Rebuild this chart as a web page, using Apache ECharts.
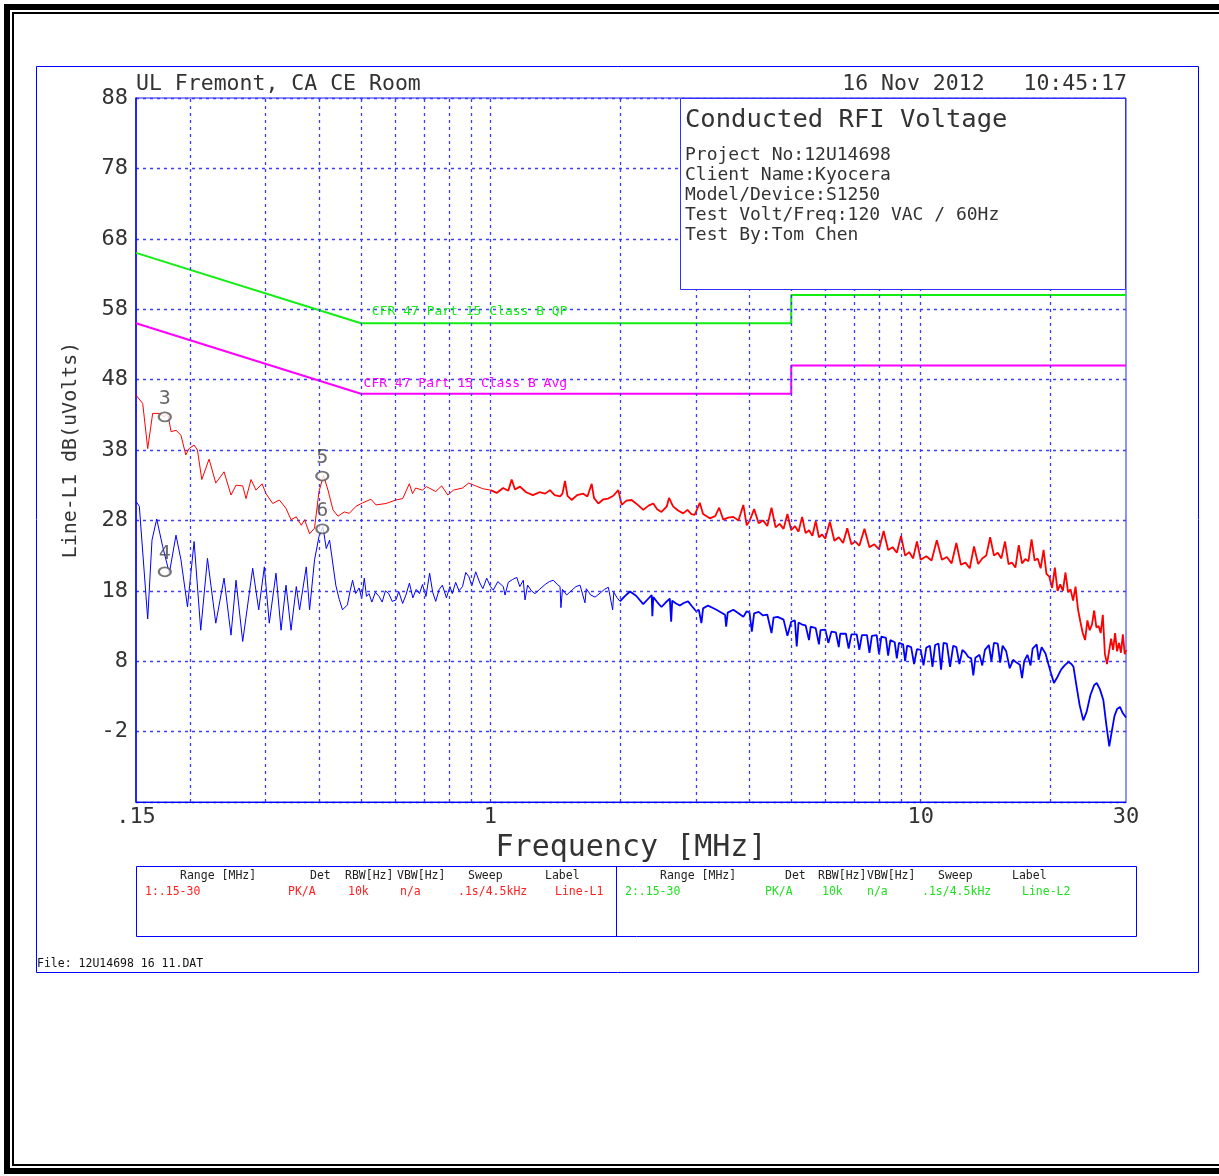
<!DOCTYPE html>
<html>
<head>
<meta charset="utf-8">
<script src="https://cdn.jsdelivr.net/npm/echarts@6.0.0/dist/echarts.min.js"></script>
<style>
html,body{margin:0;padding:0;background:#fff;}
#chart{width:1219px;height:1176px;}
</style>
</head>
<body>
<div id="chart"></div>
<script>
// ---------- DATA ----------
const gridFreqs = [0.2,0.3,0.4,0.5,0.6,0.7,0.8,0.9,1,2,3,4,5,6,7,8,9,10,20];

const qpLimit  = [[0.15,66],[0.5,56],[5,56],[5,60],[30,60]];
const avgLimit = [[0.15,56],[0.5,46],[5,46],[5,50],[30,50]];

// Peak detector trace (red), 0.15 - 1 MHz
const peakTraceLow = [
[0.150,45.8],[0.1555,44.6],[0.1597,38.2],[0.164,43.2],[0.170,43.2],[0.1745,42.7],[0.1777,43.2],[0.181,40.6],
[0.1858,40.8],[0.1908,40.1],[0.1958,37.3],[0.1993,38.2],[0.2047,38.7],[0.2084,38.0],[0.2133,33.8],[0.2218,36.7],
[0.2299,33.3],[0.2403,34.9],[0.2494,31.6],[0.2562,33.0],[0.2655,32.9],[0.2703,31.1],[0.2776,33.8],[0.2851,32.3],
[0.2945,33.2],[0.3008,31.8],[0.3118,30.4],[0.323,30.9],[0.3348,29.7],[0.3439,28.1],[0.3537,28.5],[0.3633,27.3],
[0.3697,28.1],[0.3798,26.1],[0.390,26.9],[0.3994,32.1],[0.4093,34.4],[0.4191,32.3],[0.4304,29.5],[0.4421,28.6],
[0.4573,29.2],[0.4697,29.0],[0.4868,30.0],[0.5046,30.5],[0.5275,31.0],[0.5419,30.2],[0.5718,30.4],[0.6032,30.9],
[0.6253,31.1],[0.6477,33.2],[0.659,31.8],[0.67,32.6],[0.695,32.3],[0.71,32.8],[0.746,32.1],[0.77,32.9],
[0.796,31.6],[0.82,32.3],[0.861,32.6],[0.89,33.3],[0.924,32.9],[0.96,32.5],[1.0,32.3]
];
// Peak detector trace (red), 1 - 30 MHz
const peakTraceHigh = [
[1.0,32.3],[1.034,31.9],[1.07,32.6],[1.10,32.2],[1.12,33.8],[1.14,32.4],[1.171,32.8],[1.21,32.0],[1.255,31.6],[1.30,32.0],
[1.34,31.8],[1.375,32.3],[1.41,31.6],[1.451,31.4],[1.47,31.8],[1.49,33.6],[1.51,31.5],[1.544,30.9],[1.59,31.6],
[1.643,31.8],[1.68,31.4],[1.719,33.2],[1.74,31.2],[1.781,30.4],[1.83,31.0],[1.879,31.1],[1.93,31.5],[1.982,32.3],
[2.018,30.2],[2.07,30.8],[2.129,30.9],[2.20,30.2],[2.265,29.5],[2.33,30.1],[2.39,30.4],[2.44,29.6],[2.497,29.2],
[2.57,30.0],[2.60,31.2],[2.657,30.0],[2.73,29.4],[2.803,29.0],[2.87,29.5],[2.93,28.9],[2.984,28.8],[3.065,30.5],
[3.12,28.9],[3.233,28.3],[3.33,28.6],[3.40,29.8],[3.477,28.1],[3.57,28.4],[3.668,28.5],[3.77,28.0],[3.870,30.2],
[3.94,27.3],
[4.0,27.9],[4.1,29.6],[4.2,27.6],[4.3,28.0],[4.4,27.2],[4.5,29.8],[4.6,27.0],[4.7,27.5],[4.8,26.8],[4.9,28.9],
[5.0,26.6],[5.1,27.2],[5.2,26.4],[5.3,28.5],[5.4,26.2],[5.5,26.6],[5.6,25.8],[5.7,27.9],[5.8,25.6],[5.9,26.0],
[6.0,25.4],[6.15,27.8],[6.3,25.1],[6.45,25.6],[6.6,24.8],[6.75,26.9],[6.9,24.6],[7.05,25.0],[7.2,24.4],[7.4,26.8],
[7.6,24.2],[7.8,24.6],[8.0,23.9],[8.2,26.5],[8.4,23.8],[8.6,24.2],[8.8,23.4],[9.0,25.8],[9.2,23.0],[9.4,23.5],
[9.6,22.6],[9.8,25.0],[10.0,22.4],[10.3,22.9],[10.6,22.3],[10.9,25.2],[11.2,22.4],[11.5,22.8],[11.8,21.9],[12.1,24.8],
[12.4,21.7],[12.7,22.0],[13.0,21.2],[13.3,24.3],[13.6,21.8],[13.9,22.6],[14.2,23.0],[14.5,25.6],[14.8,23.0],[15.1,23.4],
[15.4,22.6],[15.7,25.0],[16.0,21.8],[16.3,22.0],[16.6,21.3],[16.9,24.5],[17.2,21.9],[17.5,22.5],[17.8,22.2],[18.1,25.3],
[18.4,22.3],[18.7,22.6],[19.0,21.2],[19.3,23.8],[19.6,20.4],[19.9,20.0],[20.2,18.4],[20.5,21.3],[20.8,18.0],[21.1,18.9],
[21.4,18.0],[21.7,20.6],[22.0,17.8],[22.3,18.2],[22.6,16.6],[22.9,18.6],[23.2,15.4],[23.5,13.6],[23.8,12.0],[24.1,11.0],
[24.4,13.8],[24.7,12.4],[25.0,13.2],[25.3,15.2],[25.6,12.8],[25.9,13.0],[26.2,12.0],[26.5,14.6],[26.8,9.0],[27.1,7.6],
[27.4,9.4],[27.7,11.2],[28.0,9.6],[28.3,12.0],[28.6,9.4],[28.9,10.6],[29.2,9.2],[29.5,11.8],[29.8,9.0],[30,9.6]
];

// Average detector trace (blue), 0.15 - 2 MHz
const avgTraceLow = [
[0.150,30.7],[0.1527,30.0],[0.1597,14.0],[0.1634,25.2],[0.1676,28.2],[0.1730,24.3],[0.1793,20.5],[0.1858,25.9],
[0.1908,22.4],[0.1976,15.7],[0.2047,25.0],[0.2121,12.4],[0.2199,22.6],[0.2299,13.4],[0.2403,19.8],[0.2494,11.7],
[0.2562,19.5],[0.2655,10.8],[0.2801,21.2],[0.2893,15.3],[0.2981,21.4],[0.3061,13.4],[0.3173,20.5],[0.326,12.4],
[0.3348,18.8],[0.3439,12.4],[0.3537,18.6],[0.360,15.3],[0.3731,21.4],[0.3798,15.3],[0.390,22.4],[0.3994,25.7],
[0.408,27.1],[0.4152,24.0],[0.4227,25.2],[0.437,18.8],[0.445,16.8],[0.453,15.3],[0.465,16.0],[0.472,18.0],
[0.478,19.5],[0.486,17.6],[0.495,18.4],[0.502,16.9],[0.509,19.8],[0.515,17.2],[0.522,17.6],[0.530,16.4],
[0.540,17.8],[0.551,17.2],[0.560,16.4],[0.570,18.0],[0.580,17.6],[0.591,16.5],[0.603,16.7],[0.612,17.9],
[0.625,16.2],[0.636,17.4],[0.648,19.1],[0.660,17.0],[0.672,18.2],[0.684,17.6],[0.695,18.9],[0.708,17.2],
[0.722,20.5],[0.734,17.8],[0.746,16.5],[0.760,18.2],[0.773,18.8],[0.790,17.0],[0.805,18.6],[0.815,17.6],
[0.830,19.2],[0.845,18.0],[0.861,18.6],[0.876,20.6],[0.891,20.0],[0.905,18.7],[0.924,20.7],[0.945,19.1],
[0.960,18.3],[0.980,19.8],[1.0,18.6],[1.015,18.1],[1.04,19.3],[1.071,18.6],[1.081,17.4],[1.10,19.2],
[1.125,19.6],[1.151,19.9],[1.17,18.6],[1.192,19.5],[1.203,16.7],[1.22,18.8],[1.245,18.0],[1.269,17.6],
[1.30,18.2],[1.34,18.9],[1.37,19.3],[1.400,19.5],[1.43,18.9],[1.451,18.6],[1.458,15.6],[1.47,18.2],
[1.504,17.4],[1.54,18.0],[1.58,18.6],[1.615,18.8],[1.658,16.3],[1.67,18.3],[1.71,17.4],[1.750,17.1],
[1.80,17.7],[1.84,18.2],[1.879,18.5],[1.923,15.3],[1.935,17.8],[1.97,17.0],[2.0,16.5]
];
// Average detector trace (blue), 2 - 30 MHz
const avgTraceHigh = [
[2.0,16.5],[2.05,17.2],
[2.110,17.9],[2.18,17.3],[2.265,16.1],[2.32,16.8],[2.370,17.4],[2.378,14.4],[2.39,17.1],[2.44,16.4],
[2.497,15.7],[2.55,16.3],[2.611,16.9],[2.63,13.6],[2.645,16.6],[2.70,16.2],[2.754,15.9],[2.82,16.3],
[2.879,16.5],[2.94,15.8],[3.006,15.1],[3.05,15.3],[3.092,13.4],[3.12,15.5],[3.204,15.9],[3.28,15.6],
[3.351,15.3],[3.42,15.0],[3.509,14.6],[3.53,12.9],[3.56,14.9],[3.668,15.3],[3.77,14.8],[3.870,14.3],[3.94,15.1],
[4.0,14.9],[4.05,12.2],[4.1,14.8],[4.2,15.0],[4.3,14.5],[4.4,14.6],[4.5,12.0],[4.55,14.2],[4.65,14.3],[4.8,13.9],
[4.9,11.6],[5.0,13.6],[5.1,13.8],[5.15,10.1],[5.2,13.5],[5.3,13.2],[5.4,13.1],[5.5,11.0],[5.55,12.9],[5.7,12.7],
[5.8,10.4],[5.85,12.4],[6.0,12.5],[6.1,10.6],[6.2,12.2],[6.35,12.1],[6.45,10.0],[6.5,11.9],[6.7,11.9],[6.8,9.8],
[6.9,11.8],[7.1,11.8],[7.2,9.6],[7.3,11.7],[7.5,11.7],[7.6,9.2],[7.7,11.6],[7.9,11.7],[8.0,9.0],[8.1,11.5],
[8.3,11.3],[8.4,8.8],[8.5,11.0],[8.7,10.7],[8.8,8.4],[8.9,10.6],[9.1,10.4],[9.2,8.0],[9.3,10.2],[9.5,10.0],
[9.65,7.6],[9.8,9.7],[10.0,9.6],[10.15,7.4],[10.3,9.9],[10.5,10.2],[10.65,7.2],[10.8,10.3],[11.0,10.5],[11.15,6.8],
[11.3,10.6],[11.5,10.5],[11.7,7.2],[11.9,10.2],[12.1,10.0],[12.3,7.6],[12.5,9.6],[12.7,9.2],[12.9,8.6],[13.1,8.4],
[13.25,6.0],[13.4,8.5],[13.7,8.9],[13.9,7.4],[14.1,9.6],[14.4,10.3],[14.6,8.0],[14.8,10.6],[15.1,10.5],[15.3,7.8],
[15.5,10.2],[15.8,9.4],[16.1,7.0],[16.4,8.2],[16.7,7.8],[17.0,7.5],[17.2,5.6],[17.4,8.0],[17.7,8.9],[18.0,7.4],
[18.2,9.8],[18.6,10.4],[18.8,8.2],[19.1,10.0],[19.5,9.1],[19.8,7.6],[20.1,6.2],[20.4,4.9],[20.8,5.8],[21.2,6.8],
[21.6,7.4],[22.06,7.9],[22.4,7.6],[22.65,7.2],[23.0,4.6],[23.4,1.8],[23.87,-0.4],[24.3,0.8],[24.8,3.2],[25.3,4.6],
[25.65,4.9],[26.1,4.0],[26.57,2.5],[27.0,-1.0],[27.43,-4.1],[27.8,-2.0],[28.2,0.2],[28.6,1.2],[29.05,1.5],[29.5,0.6],[30,0.0]
];

// marker: [freq, level, label]
const markers = [[0.175,42.7,'3'],[0.175,20.7,'4'],[0.4065,34.3,'5'],[0.4065,26.8,'6']];

const headerLeft = 'UL Fremont, CA CE Room';
const headerRight = '16 Nov 2012   10:45:17';
const titleLines = ['Project No:12U14698','Client Name:Kyocera','Model/Device:S1250','Test Volt/Freq:120 VAC / 60Hz','Test By:Tom Chen'];
const tableHead = ['Range [MHz]','Det','RBW[Hz]','VBW[Hz]','Sweep','Label'];
const tableRow1 = ['1:.15-30','PK/A','10k','n/a','.1s/4.5kHz','Line-L1'];
const tableRow2 = ['2:.15-30','PK/A','10k','n/a','.1s/4.5kHz','Line-L2'];

// ---------- CHART ----------
const FONT = 'DejaVu Sans Mono';
const BLUE = '#0000ff';
const GRIDC = '#3c3cff';
const TXT = '#333';
const chart = echarts.init(document.getElementById('chart'), null, {renderer:'canvas'});

const g = [];
function rect(x,y,w,h,fill){ g.push({type:'rect', shape:{x,y,width:w,height:h}, style:{fill}, silent:true, z:10}); }
function box(x,y,w,h,stroke,z){ g.push({type:'rect', shape:{x,y,width:w,height:h}, style:{fill:null, stroke, lineWidth:1}, silent:true, z:z||10}); }
function txt(x,y,s,size,color,align,z){ g.push({type:'text', x, y, style:{text:s, font:size+'px "'+FONT+'"', fill:color, align:align||'left', verticalAlign:'middle'}, silent:true, z:z||20}); }

// outer black frame
rect(4,4,1215,6,'#000'); rect(4,4,6,1170,'#000');
rect(12,12,1207,2,'#000'); rect(12,12,2,1154,'#000');
rect(12,1164,1207,2,'#000'); rect(4,1168,1215,6,'#000');
// blue outer box
box(36.5,66.5,1162,906,BLUE);
// header
txt(136,84,headerLeft,21.5,TXT,'left');
txt(1127,84,headerRight,21.5,TXT,'right');
// title box (white fill above grid lines)
g.push({type:'rect', shape:{x:680.5,y:98.5,width:445,height:191}, style:{fill:'#fff', stroke:'#3030ff', lineWidth:1}, silent:true, z:50});
txt(685,120,'Conducted RFI Voltage',25.5,TXT,'left',60);
titleLines.forEach((s,i)=>txt(685,155+i*20,s,18,TXT,'left',60));
// bottom table
box(136.5,866.5,1000,70,BLUE);
g.push({type:'line', shape:{x1:616.5,y1:866,x2:616.5,y2:937}, style:{stroke:BLUE, lineWidth:1}, silent:true, z:10});
const colL = [180,310,345,397,468,545];
const colLd = [145,288,348,400,458,555];
const colR = [660,785,818,867,938,1012];
const colRd = [625,765,822,867,922,1022];
tableHead.forEach((s,i)=>{ txt(colL[i],876,s,11.5,'#222'); txt(colR[i],876,s,11.5,'#222'); });
tableRow1.forEach((s,i)=>txt(colLd[i],892,s,11.5,'#ff2020'));
tableRow2.forEach((s,i)=>txt(colRd[i],892,s,11.5,'#20e020'));
txt(37,964,'File: 12U14698 16 11.DAT',11.5,'#111');

const option = {
  animation:false,
  backgroundColor:'#fff',
  grid:{left:136, top:98, width:990, height:704, show:true, borderColor:'#2020ff', borderWidth:1, containLabel:false},
  xAxis:{
    type:'log', logBase:10, min:0.15, max:30,
    name:'Frequency [MHz]', nameLocation:'middle', nameGap:28,
    nameTextStyle:{fontFamily:FONT, fontSize:30, color:TXT},
    axisLine:{show:true, onZero:false, lineStyle:{color:BLUE, width:1}},
    axisTick:{show:false},
    splitLine:{show:false},
    minorTick:{show:false}, minorSplitLine:{show:false},
    axisLabel:{show:true, fontFamily:FONT, fontSize:22, color:TXT, margin:4,
      showMinLabel:true, showMaxLabel:true,
      formatter:function(v){ return v<1 ? String(+v.toFixed(3)).replace(/^0/,'') : String(+v.toFixed(3)); }}
  },
  yAxis:{
    type:'value', min:-12, max:88, interval:10,
    name:'Line-L1 dB(uVolts)', nameLocation:'middle', nameGap:55,
    nameTextStyle:{fontFamily:FONT, fontSize:20, color:TXT},
    axisLine:{show:true, onZero:false, lineStyle:{color:BLUE, width:1.5}},
    axisTick:{show:false},
    splitLine:{show:true, lineStyle:{color:GRIDC, type:[3,4], width:1.3}},
    axisLabel:{fontFamily:FONT, fontSize:22, color:TXT, margin:8, showMinLabel:false}
  },
  graphic:{elements:g},
  series:[
    {type:'line', data:[], silent:true, z:1,
      markLine:{silent:true, symbol:['none','none'], animation:false, label:{show:false},
        lineStyle:{color:GRIDC, type:[3,4], width:1.3},
        data:gridFreqs.map(f=>({xAxis:f}))}},
    {type:'line', name:'avgLow', data:avgTraceLow, showSymbol:false, symbol:'none', z:3,
      lineStyle:{color:'#0000ff', width:1}},
    {type:'line', name:'avgHigh', data:avgTraceHigh, showSymbol:false, symbol:'none', z:3,
      lineStyle:{color:'#0000ff', width:1.8}},
    {type:'line', name:'peakLow', data:peakTraceLow, showSymbol:false, symbol:'none', z:3,
      lineStyle:{color:'#ff0000', width:1}},
    {type:'line', name:'peakHigh', data:peakTraceHigh, showSymbol:false, symbol:'none', z:3,
      lineStyle:{color:'#ff0000', width:1.8}},
    {type:'line', name:'qp', data:qpLimit, showSymbol:false, symbol:'none', z:4,
      lineStyle:{color:'#11ee11', width:2},
      markPoint:{symbol:'circle', symbolSize:0, silent:true, animation:false,
        data:[{coord:[0.53,56], label:{show:true, position:'right', distance:0, offset:[0,-12], formatter:'CFR 47 Part 15 Class B QP', fontFamily:FONT, fontSize:13, color:'#11ee11'}}]}},
    {type:'line', name:'avgLimit', data:avgLimit, showSymbol:false, symbol:'none', z:4,
      lineStyle:{color:'#ff00ff', width:2},
      markPoint:{symbol:'circle', symbolSize:0, silent:true, animation:false,
        data:[{coord:[0.507,46], label:{show:true, position:'right', distance:0, offset:[0,-10], formatter:'CFR 47 Part 15 Class B Avg', fontFamily:FONT, fontSize:13, color:'#ff00ff'}}]}},
    {type:'scatter', data:markers, symbol:'emptyCircle', symbolSize:[12,9], z:5,
      itemStyle:{color:'#555', borderColor:'#555', borderWidth:1},
      label:{show:true, position:'top', distance:3, formatter:p=>p.value[2], fontFamily:FONT, fontSize:20, color:'#444'}}
  ]
};
chart.setOption(option);
</script>
</body>
</html>
